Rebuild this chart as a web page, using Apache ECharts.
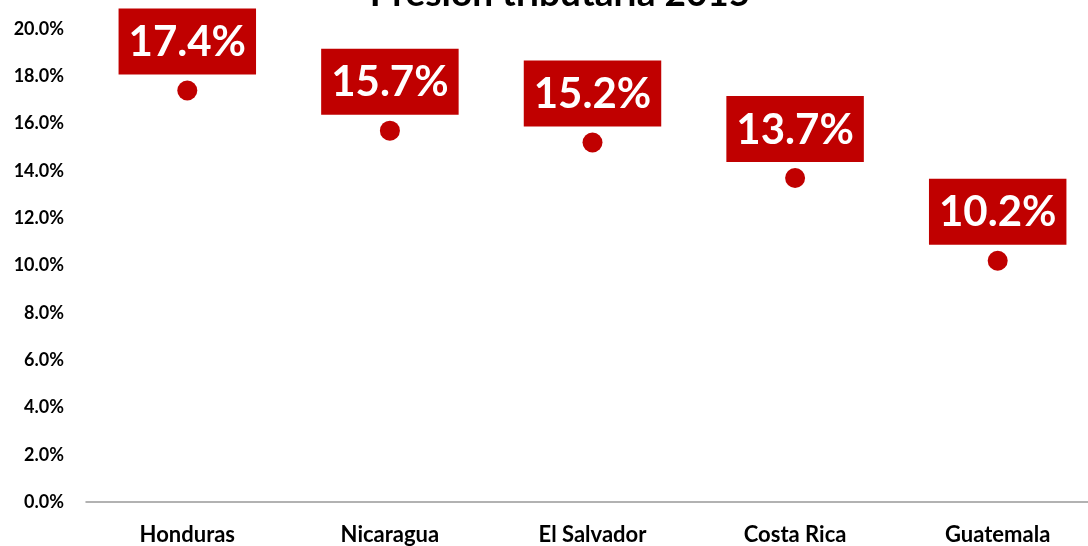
<!DOCTYPE html>
<html>
<head>
<meta charset="utf-8">
<script src="https://cdn.jsdelivr.net/npm/echarts@6/dist/echarts.min.js"></script>
<style>
  html, body { margin: 0; padding: 0; background: #fff; overflow: hidden; }
  /* el eje X sigue más allá del borde derecho, por eso el div es algo más ancho */
  #chart { width: 1099px; height: 546px; }
</style>
</head>
<body>
<div id="chart"></div>
<script>
// datos
const countries = ["Honduras", "Nicaragua", "El Salvador", "Costa Rica", "Guatemala"];
const presion = [17.4, 15.7, 15.2, 13.7, 10.2];
const titleText = "Presión tributaria 2015";

const chart = echarts.init(document.getElementById("chart"));
chart.setOption({
  backgroundColor: "#fff",
  animation: false,
  title: {
    text: titleText,
    left: 555,
    top: -29,
    textAlign: "center",
    textStyle: { fontFamily: "Lato", fontWeight: "bold", fontSize: 37, color: "#000" }
  },
  grid: { left: 86, top: 29, right: 0, bottom: 43 },
  xAxis: {
    type: "category",
    data: countries,
    axisLine: { lineStyle: { color: "#999", width: 1.5 } },
    axisTick: { show: false },
    axisLabel: {
      margin: 22,
      fontFamily: "Lato",
      fontWeight: "bold",
      fontSize: 22,
      color: "#000"
    }
  },
  yAxis: {
    type: "value",
    min: 0,
    max: 20,
    interval: 2,
    axisLine: { show: false },
    axisTick: { show: false },
    splitLine: { show: false },
    axisLabel: {
      margin: 22,
      fontFamily: "Lato",
      fontWeight: "bold",
      fontSize: 18,
      color: "#000",
      formatter: v => v.toFixed(1) + "%"
    }
  },
  series: [{
    type: "scatter",
    data: presion,
    symbolSize: 20,
    itemStyle: { color: "#C00000", opacity: 1 },
    label: {
      show: true,
      position: "top",
      distance: 6,
      formatter: p => p.value.toFixed(1) + "%",
      backgroundColor: "#C00000",
      color: "#fff",
      fontFamily: "Lato",
      fontWeight: "bold",
      fontSize: 42,
      padding: [13, 10, 11, 10]
    }
  }]
});
</script>
</body>
</html>
